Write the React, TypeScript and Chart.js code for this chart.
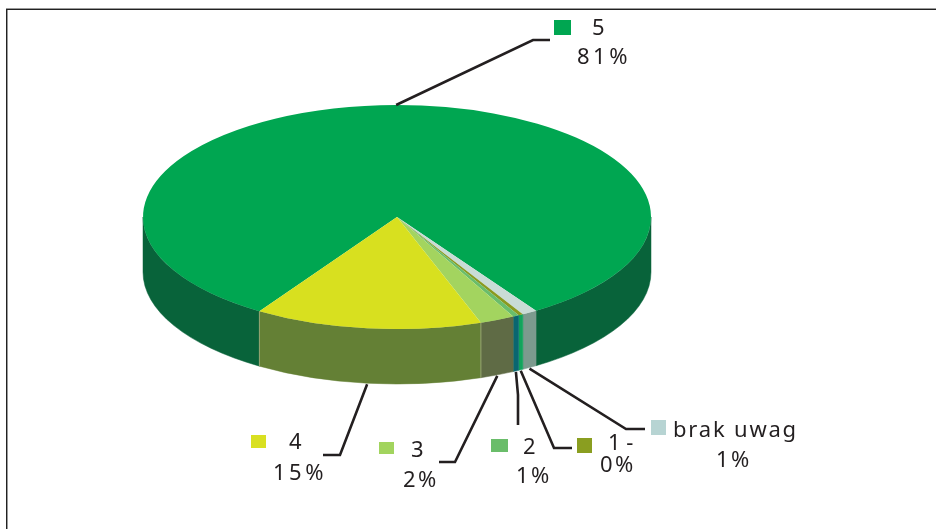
import React, { useEffect, useRef } from "react";
import { Chart, registerables } from "chart.js";

Chart.register(...registerables);

// Data: clockwise from the start of the largest slice
const categories = ["5", "brak uwag", "1 -", "2", "3", "4"];
const sliceValues = [81.67, 0.97, 0.3, 0.39, 2.2, 14.47];
const percentLabels = ["81%", "1%", "0%", "1%", "2%", "15%"];

// Styles
const topColors = ["#00a651", "#c9dcd6", "#8a9a20", "#6abd6a", "#a3d45f", "#d8e01f"];
const wallColors = ["#08633a", "#7c9a8e", "#12a45c", "#0a6670", "#5f6b45", "#648035"];
const swatchColors = ["#00a651", "#b7d4d3", "#8a9e20", "#6abd6a", "#a2d45e", "#d9e021"];
const INK = "#231f20";
const FONT = '22px "Noto Sans"';

// Perspective of the disc on the page
const TILT = 112 / 254;
const TOP_CY = 217;
const DEPTH = 55;

// Layout of each callout, in slice order
type Callout = {
  elbow: [number, number][];
  swatch: [number, number, number, number];
  name: [number, number];
  pct: [number, number];
  nameSpacing: string;
  pctSpacing: string;
  top?: boolean;
};
const callouts: Callout[] = [
  { elbow: [[533, 40], [550, 40]], swatch: [554, 20, 17, 15], name: [592, 35], pct: [577, 64], nameSpacing: "0px", pctSpacing: "3.5px", top: true },
  { elbow: [[626, 429], [645, 429]], swatch: [651, 420, 15, 15], name: [673, 437], pct: [716, 467], nameSpacing: "1.8px", pctSpacing: "2.5px" },
  { elbow: [[554, 448], [572, 448]], swatch: [577, 438, 15, 15], name: [608, 450], pct: [600, 472], nameSpacing: "0px", pctSpacing: "2.5px" },
  { elbow: [[518, 395], [518, 425]], swatch: [491, 439, 17, 13], name: [523, 454], pct: [516, 483], nameSpacing: "0px", pctSpacing: "2.5px" },
  { elbow: [[455, 462], [439, 462]], swatch: [379, 442, 15, 12], name: [411, 457], pct: [403, 487], nameSpacing: "0px", pctSpacing: "2.5px" },
  { elbow: [[340, 455], [323, 455]], swatch: [251, 435, 15, 13], name: [289, 449], pct: [273, 480], nameSpacing: "0px", pctSpacing: "3.5px" },
];

const disc3d = {
  id: "disc3d",
  beforeDatasetsDraw(chart: any) {
    const { ctx } = chart;
    const arcs = chart.getDatasetMeta(0).data;
    ctx.save();
    // page frame
    ctx.fillStyle = "#9a9a9a";
    ctx.fillRect(6, 8, 930, 1);
    ctx.fillRect(7, 9, 1, 520);
    ctx.fillStyle = "#222222";
    ctx.fillRect(6, 9, 930, 1);
    ctx.fillRect(6, 9, 1, 520);

    arcs.forEach((arc: any, i: number) => {
      const { x, startAngle, endAngle, outerRadius: r } = arc.getProps(["x", "startAngle", "endAngle", "outerRadius"], true);
      const ry = r * TILT;
      const TAU = Math.PI * 2;
      // visible front half: angles in [0, PI] and [TAU, TAU + PI]
      [0, TAU].forEach((base) => {
        const a = Math.max(startAngle, base);
        const b = Math.min(endAngle, base + Math.PI);
        if (b <= a) return;
        ctx.beginPath();
        ctx.ellipse(x, TOP_CY, r, ry, 0, a, b);
        ctx.ellipse(x, TOP_CY + DEPTH, r, ry, 0, b, a, true);
        ctx.closePath();
        ctx.fillStyle = wallColors[i];
        ctx.strokeStyle = wallColors[i];
        ctx.lineWidth = 0.5;
        ctx.fill();
        ctx.stroke();
      });
    });
    // pale seams at the edges of the "4" wall
    const seam = arcs[5].getProps(["x", "startAngle", "endAngle", "outerRadius"], true);
    [seam.startAngle, seam.endAngle].forEach((t: number) => {
      const px = seam.x + seam.outerRadius * Math.cos(t);
      const py = TOP_CY + seam.outerRadius * TILT * Math.sin(t);
      ctx.beginPath();
      ctx.moveTo(px, py);
      ctx.lineTo(px, py + DEPTH);
      ctx.strokeStyle = "#a3ad82";
      ctx.lineWidth = 0.8;
      ctx.stroke();
    });
    ctx.restore();

    // squash the circular slices into the disc's top face
    const cy = arcs[0].y;
    ctx.save();
    ctx.translate(0, TOP_CY);
    ctx.scale(1, TILT);
    ctx.translate(0, -cy);
  },
  afterDatasetsDraw(chart: any) {
    const { ctx } = chart;
    ctx.restore();
    const arcs = chart.getDatasetMeta(0).data;
    ctx.save();
    arcs.forEach((arc: any, i: number) => {
      const c = callouts[i];
      const { x, startAngle, endAngle, outerRadius: r } = arc.getProps(["x", "startAngle", "endAngle", "outerRadius"], true);
      const mid = (startAngle + endAngle) / 2;
      const sx = x + r * Math.cos(mid);
      const sy = TOP_CY + r * TILT * Math.sin(mid) + (c.top ? 0 : DEPTH + 1);
      ctx.beginPath();
      ctx.moveTo(sx, sy);
      c.elbow.forEach(([px, py]) => ctx.lineTo(px, py));
      ctx.strokeStyle = INK;
      ctx.lineWidth = 2.6;
      ctx.lineJoin = "miter";
      ctx.stroke();

      ctx.fillStyle = swatchColors[i];
      ctx.fillRect(c.swatch[0], c.swatch[1], c.swatch[2], c.swatch[3]);

      ctx.fillStyle = INK;
      ctx.font = FONT;
      ctx.textAlign = "left";
      ctx.textBaseline = "alphabetic";
      (ctx as any).letterSpacing = c.nameSpacing;
      ctx.fillText(categories[i], c.name[0], c.name[1]);
      (ctx as any).letterSpacing = c.pctSpacing;
      ctx.fillText(percentLabels[i], c.pct[0], c.pct[1]);
    });
    ctx.restore();
  },
};

export default function App() {
  const ref = useRef<HTMLCanvasElement>(null);
  useEffect(() => {
    const chart = new Chart(ref.current as HTMLCanvasElement, {
      type: "pie",
      data: {
        labels: categories,
        datasets: [{ data: sliceValues, backgroundColor: topColors, borderWidth: 0, hoverOffset: 0 }],
      },
      options: {
        animation: false,
        responsive: false,
        rotation: 212.8,
        layout: { padding: { left: 143, right: 285, top: 8, bottom: 13 } },
        plugins: { legend: { display: false }, tooltip: { enabled: false } },
      },
      plugins: [disc3d],
    } as any);
    return () => chart.destroy();
  }, []);
  return (
    <div style={{ position: "absolute", left: 0, top: 0, width: 936, height: 529 }}>
      <canvas ref={ref} width={936} height={529} style={{ display: "block" }} />
    </div>
  );
}
